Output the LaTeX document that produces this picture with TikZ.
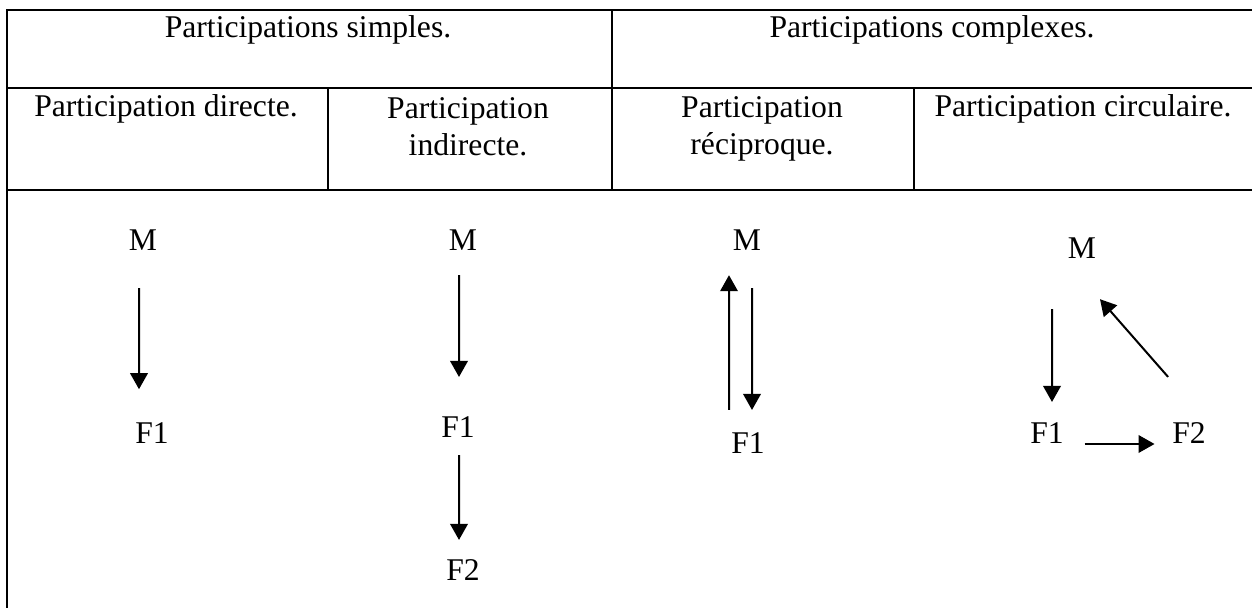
\documentclass[tikz,border=0pt]{standalone}
\usepackage{fontspec}
\setmainfont{Liberation Serif}
\usetikzlibrary{arrows.meta,positioning}

\begin{document}
\begin{tikzpicture}[
                x=0.02cm, y=-0.02cm,
                every node/.style={font=\fontsize{18}{21}\selectfont},
                head/.style={anchor=base, align=center, inner sep=0pt},
                ent/.style={inner sep=0pt},
                rule/.style={line width=0.05cm},
                arrow/.style={-{Triangle[length=0.32cm,width=0.35cm]}, line width=0.04cm}
            ]

            \useasboundingbox (0,0) rectangle (1252,608);

            \draw[rule] (1252,10) -- (7,10) -- (7,608);
            \draw[rule] (7,88) -- (1252,88);
            \draw[rule] (7,190) -- (1252,190);
            \draw[rule] (328,88) -- (328,190);
            \draw[rule] (612,10) -- (612,190);
            \draw[rule] (914,88) -- (914,190);

            \node[head] (simples) at (308,38) {Participations simples.};

            \node[head] (complexes) at (932,38) {Participations complexes.};

            \node[head] (directe) at (166,117) {Participation directe.};

            \node[head] (indirecte) at (468,155) {Participation\\indirecte.};

            \node[head] (reciproque) at (762,154) {Participation\\réciproque.};

            \node[head] (circulaire) at (1083,117) {Participation circulaire.};

            \node[ent] (mDir) at (143,240) {M};

            \node[ent] (fDir) at (152,433) {F1};

            \node[ent] (mInd) at (463,240) {M};

            \node[ent] (f1Ind) at (458,427) {F1};

            \node[ent] (f2Ind) at (463,570) {F2};

            \node[ent] (mRec) at (747,240) {M};

            \node[ent] (fRec) at (748,443) {F1};

            \node[ent] (mCirc) at (1082,248) {M};

            \node[ent] (f1Circ) at (1047,433) {F1};

            \node[ent, right=2.16cm of f1Circ] (f2Circ) {F2};

            \draw[arrow] ([xshift=-0.08cm,yshift=-0.75cm]mDir.south) -- ([xshift=-0.26cm,yshift=0.66cm]fDir.north);
            \draw[arrow] ([xshift=-0.08cm,yshift=-0.49cm]mInd.south) -- ([xshift=0.02cm,yshift=0.785cm]f1Ind.north);
            \draw[arrow] ([xshift=0.02cm,yshift=-0.345cm]f1Ind.south) -- ([xshift=-0.08cm,yshift=0.385cm]f2Ind.north);
            \draw[arrow] ([xshift=-0.38cm,yshift=0.445cm]fRec.north) -- ([xshift=-0.36cm,yshift=-0.49cm]mRec.south);
            \draw[arrow] ([xshift=0.1cm,yshift=-0.75cm]mRec.south) -- ([xshift=0.08cm,yshift=0.445cm]fRec.north);
            \draw[arrow] ([xshift=-0.6cm,yshift=-1.01cm]mCirc.south) -- ([xshift=0.1cm,yshift=0.405cm]f1Circ.north);
            \draw[arrow] ([xshift=0.41cm,yshift=-0.22cm]f1Circ.east) -- ([xshift=-0.35cm,yshift=-0.22cm]f2Circ.west);
            \draw[arrow] ([xshift=-0.42cm,yshift=0.905cm]f2Circ.north) -- ([xshift=0.36cm,yshift=-0.81cm]mCirc.south);

        \end{tikzpicture}
\end{document}
